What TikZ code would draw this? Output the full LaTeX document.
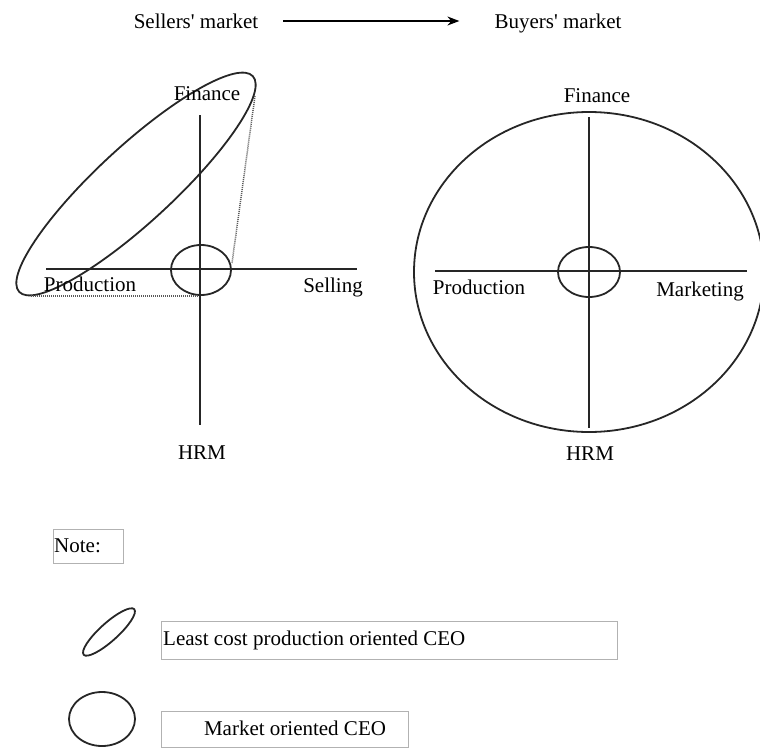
\documentclass[tikz,border=0pt]{standalone}
\usepackage{fontspec}
\setmainfont{Liberation Serif}[Ligatures=TeXOff]
\usetikzlibrary{arrows.meta}
\begin{document}
\begin{tikzpicture}[x=1pt,y=-1pt,
  lbl/.style={inner sep=0pt,anchor=base,font=\fontsize{21}{24}\selectfont},
  axis/.style={line width=1.5pt,draw=black!85},
  oval/.style={line width=1.8pt,draw=black!85},
  proj/.style={line width=1.5pt,draw=black!65,dash pattern=on 1pt off 1pt},
  legbox/.style={line width=0.8pt,draw=black!30}]
\useasboundingbox (0,0) rectangle (760,747);
\clip (0,0) rectangle (760,747);
% header
\node[lbl] (sell) at (196,28) {Sellers' market};
\node[lbl] (buy) at (558,28) {Buyers' market};
\coordinate (ay) at (0,21);
\draw[line width=1.5pt,-{Stealth[length=12pt,width=9pt]}] ([xshift=25pt]sell.east |- ay) -- ([xshift=-35pt]buy.west |- ay);
% left diagram
\coordinate (lT) at (200,115);
\coordinate (lB) at (200,425);
\coordinate (lL) at (46,269);
\coordinate (lR) at (357,269);
\draw[axis] (lT) -- (lB);
\draw[axis] (lL) -- (lR);
\coordinate (lc) at (201,270);
\draw[oval] (lc) ellipse [x radius=30pt, y radius=25pt];
\coordinate (tc) at (136,184);
\draw[oval,rotate around={42.7:(tc)}] (tc) ellipse [x radius=159pt, y radius=38pt];
\coordinate (p1) at (255,96);
\coordinate (p2) at (232,263);
\coordinate (p3) at (31,296);
\coordinate (p4) at (198,296);
\draw[proj] (p1) -- (p2);
\draw[proj] (p3) -- (p4);
\node[lbl] (lfin) at (207,100) {Finance};
\node[lbl] (lprod) at (90,291) {Production};
\node[lbl] (lsell) at (333,292) {Selling};
\node[lbl] (lhrm) at (202,459) {HRM};
% right diagram
\coordinate (rT) at (589,117);
\coordinate (rB) at (589,428);
\coordinate (rL) at (435,271);
\coordinate (rR) at (747,271);
\coordinate (rc) at (589,272);
\draw[oval] (rc) ellipse [x radius=175pt, y radius=160pt];
\draw[axis] (rT) -- (rB);
\draw[axis] (rL) -- (rR);
\draw[oval] (rc) ellipse [x radius=31pt, y radius=25pt];
\node[lbl] (rfin) at (597,102) {Finance};
\node[lbl] (rprod) at (479,294) {Production};
\node[lbl] (rmkt) at (700,296) {Marketing};
\node[lbl] (rhrm) at (590,460) {HRM};
% legend
\draw[legbox] (53,529) rectangle (123,563);
\node[lbl,anchor=base west] (note) at (54,552) {Note:};
\coordinate (e1) at (109,632);
\draw[oval,rotate around={42:(e1)}] (e1) ellipse [x radius=34pt, y radius=9pt];
\draw[legbox] (161,621) rectangle (617,659);
\node[lbl,anchor=base west] (least) at (163,645) {Least cost production oriented CEO};
\coordinate (e2) at (102,719);
\draw[oval] (e2) ellipse [x radius=33pt, y radius=27pt];
\draw[legbox] (161,711) rectangle (408,747);
\node[lbl] (mkt) at (295,735) {Market oriented CEO};
\end{tikzpicture}
\end{document}
